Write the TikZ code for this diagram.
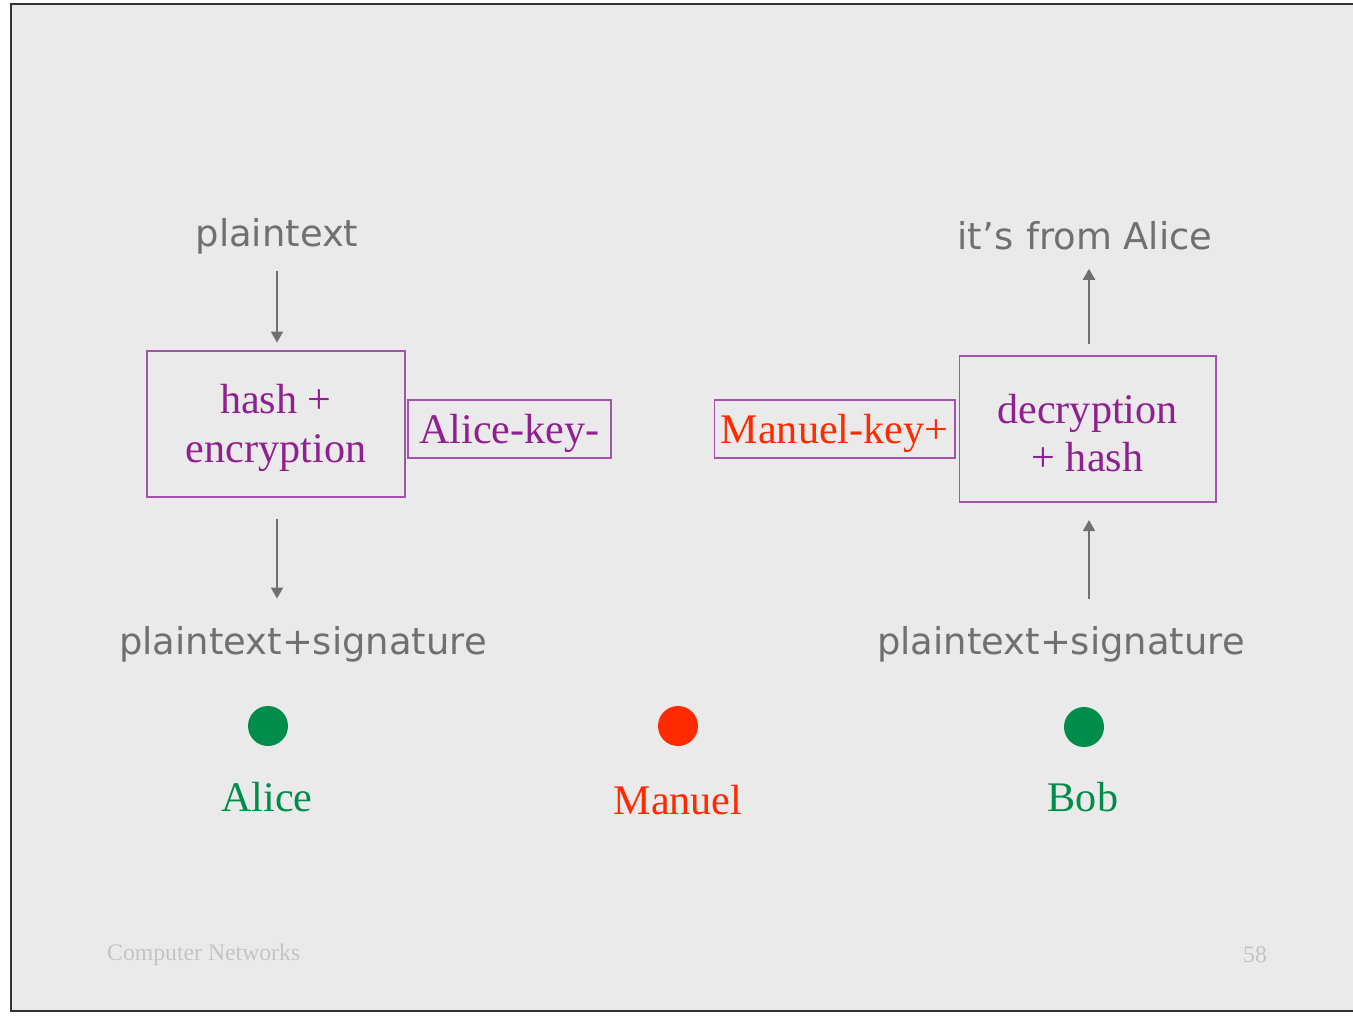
\documentclass[tikz,border=0pt]{standalone}
\usepackage{fontspec}
\setmainfont{Liberation Serif}
\newfontfamily\handfont{DejaVu Sans}
\usetikzlibrary{arrows.meta}
\definecolor{slidebg}{HTML}{EAEAEA}
\definecolor{inkgrey}{HTML}{707070}
\definecolor{boxline}{HTML}{A452AC}
\definecolor{boxtext}{HTML}{901F90}
\definecolor{evilred}{HTML}{FF2A00}
\definecolor{goodgreen}{HTML}{008C4A}
\definecolor{footgrey}{HTML}{C4C4C4}
\newcommand{\toplift}{\rule{0pt}{21pt}}
\tikzset{
  hand/.style={text=inkgrey, font=\handfont\fontsize{21}{25}\selectfont},
  procbox/.style={draw=boxline, line width=0.6pt, text=boxtext, align=center,
    minimum height=2.92cm, font=\fontsize{24}{27.5}\selectfont},
  keybox/.style={draw=boxline, line width=0.6pt, minimum height=1.16cm,
    text height=18.5pt, text depth=2.5pt, font=\fontsize{24}{27.5}\selectfont},
  flow/.style={draw=inkgrey, line width=1.1pt, -{Triangle[length=0.22cm,width=0.24cm]}},
  who/.style={font=\fontsize{24}{28}\selectfont}
}
\begin{document}
\begin{tikzpicture}[x=0.02cm, y=-0.02cm]
		%%%%% START %%%%%
		\useasboundingbox (0, 0) rectangle (1353, 1015);
		\begin{scope}
		\clip (0, 0) rectangle (1353, 1015);
		\draw[fill=slidebg, draw=black!80, line width=0.8pt] (11, 4) rectangle (1370, 1011);
		\end{scope}
		
		% Alice signs
		\node[hand] (plainA) at (277, 236) {plaintext};
		\node[procbox, minimum width=5.16cm] (hashbox) at (276, 424) {\toplift hash +\\encryption};
		\node[keybox, minimum width=4.06cm, text=boxtext] (akey) at (509.5, 429) {Alice-key-};
		\node[hand] (sigA) at (303, 644) {plaintext+signature};
		
		\draw[flow, shorten <=6pt, shorten >=4.5pt] (plainA.south) -- (plainA.south |- hashbox.north);
		\draw[flow, shorten <=12.5pt, shorten >=12.2pt] (plainA |- hashbox.south) -- (plainA |- sigA.north);
		
		% Bob checks, with Manuel's key
		\node[hand] (fromA) at (1085, 236) {it’s\hspace{0.35em}from Alice};
		\node[procbox, minimum width=5.14cm] (decbox) at (1087.5, 429) {\toplift decryption\\+ hash};
		\node[keybox, minimum width=4.82cm, text=evilred] (mkey) at (834.5, 429) {Manuel-key+};
		\node[hand] (sigB) at (1061, 644) {plaintext+signature};
		
		\draw[flow, shorten <=6.5pt, shorten >=7pt] ([xshift=0.03cm]decbox.north) -- ([xshift=0.03cm]decbox.north |- fromA.south);
		\draw[flow, shorten <=12.2pt, shorten >=10pt] ([xshift=0.03cm]decbox.south |- sigB.north) -- ([xshift=0.03cm]decbox.south);
		
		% the three parties
		\fill[goodgreen] (268, 726) circle (20);
		\fill[evilred] (678, 726) circle (20);
		\fill[goodgreen] (1084, 727) circle (20);
		\node[who, text=goodgreen] (alice) at (267, 797) {Alice};
		\node[who, text=evilred] (manuel) at (678, 800) {Manuel};
		\node[who, text=goodgreen] (bob) at (1083, 797) {Bob};
		
		% footer
		\node[anchor=west, text=footgrey, font=\fontsize{13.5}{16}\selectfont] (course) at (101, 955) {Computer Networks};
		\node[text=footgrey, font=\fontsize{13.5}{16}\selectfont] (page) at (1255, 955) {58};
		%%%%% END %%%%%
\end{tikzpicture}
\end{document}
